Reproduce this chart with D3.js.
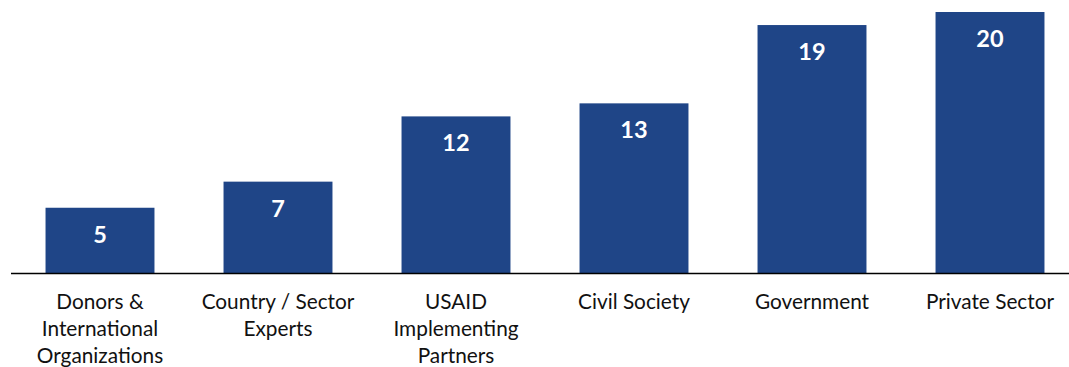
<!DOCTYPE html>
<html>
<head>
<meta charset="utf-8">
<script src="https://cdn.jsdelivr.net/npm/d3@7"></script>
<style>
  html, body { margin: 0; padding: 0; background: #fff; }
  svg { display: block; }
</style>
</head>
<body>
<svg id="chart" width="1069" height="367"></svg>
<script>
// Stakeholder groups and number of interviews per group
const categories = ["Donors", "Experts", "USAID", "Civil", "Government", "Private"];
const categoryLines = [
  ["Donors &", "International", "Organizations"],
  ["Country / Sector", "Experts"],
  ["USAID", "Implementing", "Partners"],
  ["Civil Society"],
  ["Government"],
  ["Private Sector"]
];
const values = [5, 7, 12, 13, 19, 20];

const W = 1069, H = 367;
const baseY = 273;
const barColor = "#1f4587";
const fontFamily = "'Gill Sans', 'Gill Sans MT', Lato, 'Open Sans', sans-serif";

const svg = d3.select("#chart");

const x = d3.scaleBand()
  .domain(categories)
  .range([11, 1079])
  .paddingInner(0.388)
  .paddingOuter(0.194);

const y = d3.scaleLinear()
  .domain([0, 20])
  .range([baseY, 12]);

// bars
svg.append("g")
  .selectAll("rect")
  .data(values)
  .join("rect")
  .attr("x", (d, i) => x(categories[i]))
  .attr("y", d => y(d))
  .attr("width", x.bandwidth())
  .attr("height", d => baseY - y(d))
  .attr("fill", barColor);

// value labels inside bars
svg.append("g")
  .selectAll("text")
  .data(values)
  .join("text")
  .attr("x", (d, i) => x(categories[i]) + x.bandwidth() / 2)
  .attr("y", d => y(d) + 35)
  .attr("text-anchor", "middle")
  .attr("fill", "#fff")
  .attr("font-family", fontFamily)
  .attr("font-weight", "bold")
  .attr("font-size", 23.5)
  .text(d => d);

// baseline
svg.append("line")
  .attr("x1", 11).attr("x2", W)
  .attr("y1", baseY + 0.5).attr("y2", baseY + 0.5)
  .attr("stroke", "#000")
  .attr("stroke-width", 1.5);

// category labels
const lab = svg.append("g")
  .selectAll("text")
  .data(categories)
  .join("text")
  .attr("x", d => x(d) + x.bandwidth() / 2)
  .attr("y", 309)
  .attr("text-anchor", "middle")
  .attr("fill", "#111")
  .attr("font-family", fontFamily)
  .attr("font-size", 20.8);

lab.selectAll("tspan")
  .data((d, i) => categoryLines[i])
  .join("tspan")
  .attr("x", function () { return d3.select(this.parentNode).attr("x"); })
  .attr("dy", (d, i) => i === 0 ? 0 : 27)
  .text(d => d);
</script>
</body>
</html>
